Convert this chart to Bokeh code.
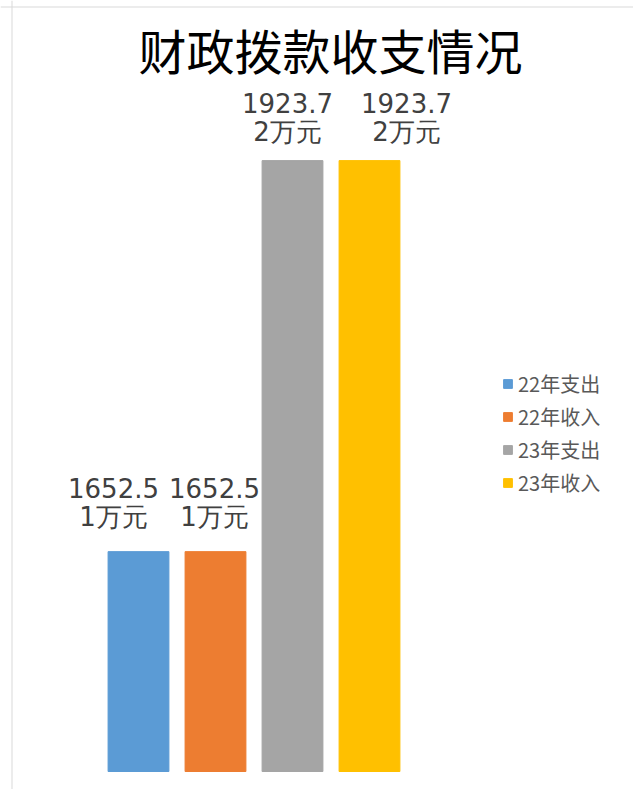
from bokeh.plotting import figure
from bokeh.models import ColumnDataSource, Range1d, Label, Legend, LegendItem, Span
from bokeh.embed import file_html
from bokeh.resources import INLINE
from bokeh.core.properties import value

# ---- data ----
title_text = "财政拨款收支情况"
categories = ["22年支出", "22年收入", "23年支出", "23年收入"]
values = [1652.51, 1652.51, 1923.72, 1923.72]
colors = ["#5B9BD5", "#ED7D31", "#A5A5A5", "#FFC000"]
axis_min = 1500

# label placement tweaks (screen px), as in the reference
label_dx = [-25, -1, -5, 37]
label_dy1 = [-64, -64, -58, -58]
label_dy2 = [-35, -35, -29, -29]

W, H = 633, 789
px_per_x = 77.0
px_per_y = 1.4417
x_start = 1 - 138 / px_per_x
x_end = x_start + W / px_per_x
y_start = axis_min - 18 / px_per_y
y_end = y_start + H / px_per_y

xs = list(range(1, len(categories) + 1))
labels = [f"{v:.2f}万元" for v in values]
line1 = [s[:6] for s in labels]
line2 = [s[6:] for s in labels]

src = ColumnDataSource(dict(x=xs, top=values, bottom=[axis_min] * len(values),
                            color=colors, cat=categories, l1=line1, l2=line2,
                            dx=label_dx, dy1=label_dy1, dy2=label_dy2))

p = figure(width=W, height=H, output_backend="svg", toolbar_location=None,
           x_range=Range1d(x_start, x_end), y_range=Range1d(y_start, y_end),
           x_axis_type=None, y_axis_type=None, min_border=0,
           min_border_left=0, min_border_right=0, min_border_top=0, min_border_bottom=0)
p.grid.visible = False
p.outline_line_color = None
p.background_fill_color = "white"
p.border_fill_color = "white"

r = p.vbar(x="x", top="top", bottom="bottom", width=0.79, color="color", source=src)

lab_font = value("DejaVu Sans")
p.text(x="x", y="top", text="l1", source=src, text_align="center", text_baseline="middle",
       x_offset="dx", y_offset="dy1", text_font=lab_font, text_font_size="26px",
       text_color="#404040")
p.text(x="x", y="top", text="l2", source=src, text_align="center", text_baseline="middle",
       x_offset="dx", y_offset="dy2", text_font=lab_font, text_font_size="26px",
       text_color="#404040")

# title
p.add_layout(Label(x=x_start + 330 / px_per_x, y=y_end - 48.5 / px_per_y,
                   text=title_text, text_align="center", text_baseline="middle",
                   text_font="Noto Sans CJK SC", text_font_size="48px", text_color="#000000"))

# chart-area border lines (left and top)
p.add_layout(Span(location=x_start + 11.5 / px_per_x, dimension="height",
                  line_color="#D9D9D9", line_width=1))
p.add_layout(Span(location=y_end - 6.5 / px_per_y, dimension="width",
                  line_color="#D9D9D9", line_width=1))

# legend
items = []
for i, c in enumerate(categories):
    items.append(LegendItem(label=c, renderers=[r], index=i))
legend = Legend(items=items, location=(502, 292), orientation="vertical",
                glyph_width=11, glyph_height=11, label_height=30, spacing=3,
                label_standoff=5, padding=0, margin=0,
                label_text_font="Noto Sans CJK SC", label_text_font_size="20px",
                label_text_color="#595959", border_line_color=None,
                background_fill_alpha=0)
p.add_layout(legend)

open("out.html", "w").write(file_html(p, INLINE))
